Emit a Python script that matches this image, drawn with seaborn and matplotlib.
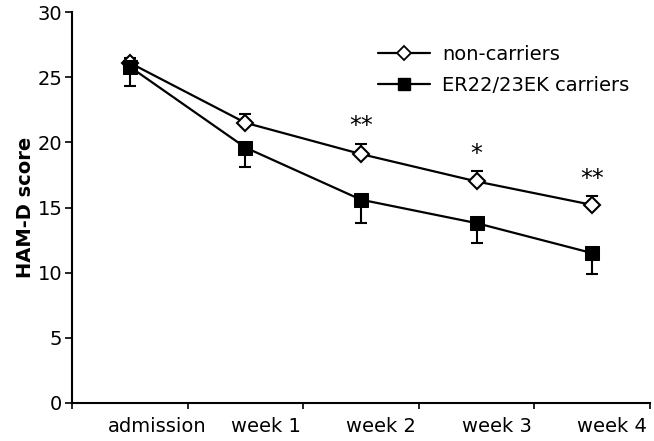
import matplotlib
matplotlib.use("Agg")
import matplotlib.pyplot as plt
import seaborn as sns
import numpy as np
import pandas as pd
from matplotlib.ticker import FixedLocator, NullFormatter
from matplotlib.lines import Line2D

categories = ["admission", "week 1", "week 2", "week 3", "week 4"]
non_carriers = [26.1, 21.5, 19.1, 17.0, 15.2]
non_carriers_err = [0.4, 0.7, 0.8, 0.8, 0.7]
carriers = [25.8, 19.6, 15.6, 13.8, 11.5]
carriers_err = [1.5, 1.5, 1.8, 1.5, 1.6]
stars = ["", "", "**", "*", "**"]
groups = ["non-carriers", "ER22/23EK carriers"]

sns.set_theme(style="white")
plt.rcParams['font.family'] = ['DejaVu Sans']
for k in ["text.color", "axes.labelcolor", "xtick.color", "ytick.color", "axes.edgecolor"]:
    plt.rcParams[k] = "black"

x = np.arange(len(categories))
df = pd.DataFrame({
    "x": np.concatenate([x, x]),
    "score": non_carriers + carriers,
    "group": [groups[0]] * len(x) + [groups[1]] * len(x),
})

fig = plt.figure(figsize=(6.54, 4.41), dpi=100)
ax = fig.add_axes([72 / 654, 38 / 441, 578 / 654, 391 / 441])

# error bars (one-sided)
ax.errorbar(x, non_carriers, yerr=[np.zeros(len(x)), non_carriers_err], fmt="none",
            ecolor="black", elinewidth=1.5, capsize=4, capthick=1.5, zorder=2)
ax.errorbar(x, carriers, yerr=[carriers_err, np.zeros(len(x))], fmt="none",
            ecolor="black", elinewidth=1.5, capsize=4, capthick=1.5, zorder=2)

sns.lineplot(data=df, x="x", y="score", hue="group", style="group",
             markers={groups[0]: "D", groups[1]: "s"}, dashes=False,
             palette={groups[0]: "black", groups[1]: "black"},
             linewidth=1.6, ax=ax, zorder=3, legend=False)
for ln in ax.get_lines():
    if ln.get_marker() == "D":
        ln.set_markerfacecolor("white")
        ln.set_markeredgecolor("black")
        ln.set_markersize(8)
        ln.set_markeredgewidth(1.5)
    elif ln.get_marker() == "s":
        ln.set_markerfacecolor("black")
        ln.set_markeredgecolor("black")
        ln.set_markersize(9.5)

for i, s in enumerate(stars):
    if s:
        ax.text(x[i], non_carriers[i] + non_carriers_err[i] + 0.4, s,
                ha="center", va="bottom", fontsize=17, color="black")

handles = [
    Line2D([], [], color="black", lw=1.6, marker="D", markersize=7,
           markerfacecolor="white", markeredgecolor="black", markeredgewidth=1.3),
    Line2D([], [], color="black", lw=1.6, marker="s", markersize=8,
           markerfacecolor="black"),
]
ax.legend(handles, groups, loc="upper left", bbox_to_anchor=(0.529, 0.915),
          frameon=False, fontsize=14, handlelength=2.7, handletextpad=0.6,
          labelspacing=0.6, borderpad=0, borderaxespad=0)

ax.set_xlim(-0.5, len(categories) - 0.5)
ax.set_ylim(0, 30)
ax.set_yticks(np.arange(0, 31, 5))
ax.set_xticks(np.arange(-0.5, len(categories), 1.0))
ax.xaxis.set_major_formatter(NullFormatter())
# labels sit slightly right of the category centres, as in the reference
label_shift = np.array([0.24, 0.175, 0.175, 0.175, 0.175])
ax.xaxis.set_minor_locator(FixedLocator(x + label_shift))
ax.set_xticklabels(categories, minor=True)
ax.tick_params(axis="x", which="minor", length=0, pad=10, labelsize=14)
ax.tick_params(axis="x", which="major", length=4, width=1.2, direction="out", bottom=True)
ax.tick_params(axis="y", length=5, width=1.2, direction="out", left=True, labelsize=14, pad=2)

ax.set_xlabel("")
ax.set_ylabel("HAM-D score", fontsize=14, fontweight="bold", labelpad=2)
sns.despine(ax=ax)
for sp in ["left", "bottom"]:
    ax.spines[sp].set_color("black")
    ax.spines[sp].set_linewidth(1.5)

fig.savefig("out.png", dpi=100)
